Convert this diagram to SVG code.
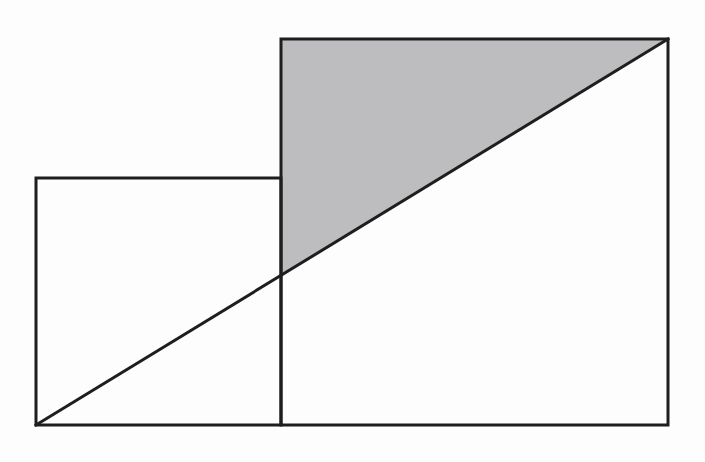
<svg xmlns="http://www.w3.org/2000/svg" width="705" height="462" viewBox="0 0 705 462">
<style>
.ln{fill:none;stroke:#1e1e1e;stroke-width:3;stroke-linejoin:miter;stroke-linecap:square}
</style>
<rect width="705" height="462" fill="#fdfdfd"/>
<g id="shaded">
<polygon points="281,39 668,39 281,275" fill="#bdbdbf"/>
</g>
<g id="small-square"><rect class="ln" x="36" y="178" width="245" height="247"/></g>
<g id="large-square"><rect class="ln" x="281" y="39" width="387" height="386"/></g>
<g id="connectors"><line class="ln" x1="36" y1="425" x2="668" y2="39"/></g>
</svg>
